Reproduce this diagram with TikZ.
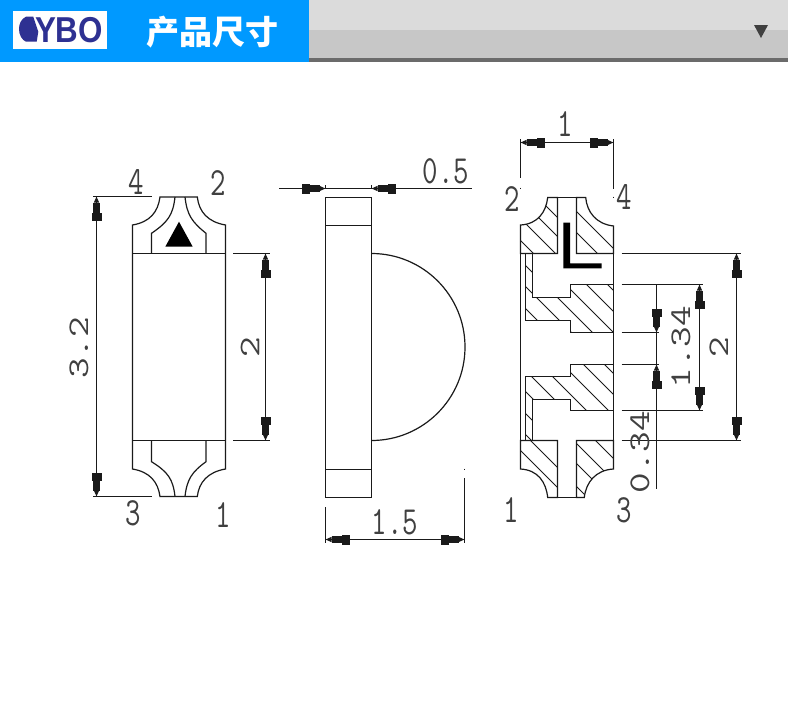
\documentclass[tikz,border=0pt]{standalone}
\usepackage{fontspec}
\newfontfamily\cjk{Noto Sans CJK SC}
\newfontfamily\logofont{Liberation Sans}
\usetikzlibrary{arrows.meta}
\definecolor{headblue}{HTML}{0099FF}
\definecolor{logonavy}{HTML}{2E3192}
\definecolor{cadline}{HTML}{1A1A1A}
\tikzset{
	dimtip/.tip={Rectangle[length=8pt,width=10pt,sep=0pt] Rectangle[length=10pt,width=7pt,sep=0pt] Triangle[length=6pt,width=5pt,sep=0pt]},
	part/.style={line width=1.2pt, color=cadline},
	hatchline/.style={line width=0.9pt, color=cadline},
	dimtext/.style={font=\ttfamily\fontsize{40}{40}\selectfont, color=black!75, inner sep=0pt, xscale=0.75, transform shape},
	dimline/.style={line width=1.1pt, color=cadline},
	dimboth/.style={dimline, dimtip-dimtip},
	dimend/.style={dimline, -dimtip}
}
\def\hatchlines#1#2{\begin{scope}\clip #1;\foreach \c in {#2} \draw[hatchline] (500,{500+\c}) -- (640,{640+\c});\end{scope}}

\begin{document}
\begin{tikzpicture}[x=1pt, y=-1pt]
		\useasboundingbox (0, 0) rectangle (788, 715);
		
		%%%%% HEADER %%%%%
		\fill[headblue] (0, 0) rectangle (309, 62);
		\fill[color=black!14] (309, 0) rectangle (788, 30);
		\fill[color=black!22] (309, 30) rectangle (788, 58);
		\fill[color=black!58] (309, 58) rectangle (788, 62);
		\fill[color=black!75] (754, 25) -- (768, 25) -- (761, 38) -- cycle;
		\fill[white] (13, 11) rectangle (107, 49);
		\fill[logonavy] (33.3, 16.7) -- (26, 16.7) .. controls (21, 19) and (19, 24) .. (19, 29) .. controls (19, 35) and (22, 40) .. (26, 41.7) -- (36.7, 41.7) -- (38.3, 31.7) -- cycle;
		\node[font=\logofont\bfseries\fontsize{36}{36}\selectfont, color=logonavy, inner sep=0pt, xscale=0.87, transform shape] (logo) at (69, 30) {YBO};
		\node[font=\cjk\bfseries\fontsize{33}{33}\selectfont, color=white, inner sep=0pt] (title) at (212.5, 32) {产品尺寸};
		
		%%%%% LEFT VIEW %%%%%
		\draw[part] (132.5, 253.5) -- (132.5, 225) .. controls (150, 222) and (158, 212) .. (160, 197) -- (197.3, 197) .. controls (199, 212) and (208, 222) .. (225.5, 225) -- (225.5, 469) .. controls (208, 472) and (199, 482) .. (197.3, 496.5) -- (160, 496.5) .. controls (158, 482) and (150, 472) .. (132.5, 469) -- cycle;
		\draw[part] (132.5, 253.5) -- (225.5, 253.5);
		\draw[part] (132.5, 440.5) -- (225.5, 440.5);
		\draw[part] (175, 197) .. controls (173, 215) and (168, 222) .. (151.5, 233.3) -- (151.5, 253.5);
		\draw[part] (185, 197) .. controls (187, 215) and (192, 222) .. (206, 233.3) -- (206, 253.5);
		\draw[part] (175, 496.5) .. controls (173, 479) and (168, 472) .. (151.5, 461.7) -- (151.5, 440.5);
		\draw[part] (185, 496.5) .. controls (187, 479) and (192, 472) .. (206, 461.7) -- (206, 440.5);
		\fill[black] (179, 221.7) -- (165.3, 246.7) -- (192.7, 246.7) -- cycle;
		
		\draw[dimline] (93, 196.5) -- (151.7, 196.5);
		\draw[dimline] (93, 496.5) -- (151.7, 496.5);
		\draw[dimboth] (96.5, 196.5) -- (96.5, 496.5);
		\draw[dimline] (233, 253.5) -- (270, 253.5);
		\draw[dimline] (233, 440.5) -- (270, 440.5);
		\draw[dimboth] (265.5, 253.5) -- (265.5, 440.5);
		\node[dimtext, rotate=90] (lenleft) at (79, 348) {3.2};
		\node[dimtext, rotate=90] (domeleft) at (250, 347) {2};
		\node[dimtext] (pinfour) at (136, 182) {4};
		\node[dimtext] (pintwo) at (218, 183) {2};
		\node[dimtext] (pinthree) at (133, 513) {3};
		\node[dimtext] (pinone) at (223, 515) {1};
		
		%%%%% MIDDLE VIEW %%%%%
		\draw[part] (325.5, 197.5) rectangle (371.5, 497.5);
		\draw[part] (325.5, 225.5) -- (371.5, 225.5);
		\draw[part] (325.5, 469.5) -- (371.5, 469.5);
		\draw[part] (371.5, 253.5) arc[start angle=90, end angle=-90, radius=93.5pt];
		
		\draw[dimline] (279, 188.5) -- (472, 188.5);
		\draw[dimend] (302, 188.5) -- (325.5, 188.5);
		\draw[dimend] (395, 188.5) -- (371.5, 188.5);
		\draw[dimline] (325.5, 185) -- (325.5, 188.5);
		\draw[dimline] (371.5, 185) -- (371.5, 188.5);
		\draw[dimline] (325.5, 507) -- (325.5, 543);
		\draw[dimline] (464.5, 478) -- (464.5, 543);
		\draw[dimline] (464.5, 468.5) -- (464.5, 470);
		\draw[dimboth] (325.5, 539.5) -- (464.5, 539.5);
		\node[dimtext] (widthtop) at (446, 171) {0.5};
		\node[dimtext] (widthmid) at (395, 522) {1.5};
		
		%%%%% RIGHT VIEW %%%%%
		\def\capTL{(520.5, 253.5) -- (520.5, 225) .. controls (538, 224) and (546, 212) .. (547.7, 197.5) -- (557.5, 197.5) -- (557.5, 253.5) -- cycle}
		\def\capTR{(576.5, 253.5) -- (576.5, 197.5) -- (585.7, 197.5) .. controls (587, 212) and (596, 224) .. (613.5, 226) -- (613.5, 253.5) -- cycle}
		\def\capBL{(520.5, 440.5) -- (520.5, 469) .. controls (538, 470) and (546, 482) .. (547.7, 497.5) -- (557.5, 497.5) -- (557.5, 440.5) -- cycle}
		\def\capBR{(576.5, 440.5) -- (576.5, 497.5) -- (584.3, 497.5) .. controls (586, 482) and (596, 470) .. (613.5, 469) -- (613.5, 440.5) -- cycle}
		\def\leadT{(525.5, 253.5) -- (532.5, 253.5) -- (532.5, 297.5) -- (570.5, 297.5) -- (570.5, 284.5) -- (613.5, 284.5) -- (613.5, 332.5) -- (570.5, 332.5) -- (570.5, 320.5) -- (525.5, 320.5) -- cycle}
		\def\leadB{(525.5, 440.5) -- (532.5, 440.5) -- (532.5, 399.5) -- (570.5, 399.5) -- (570.5, 410.5) -- (613.5, 410.5) -- (613.5, 364.5) -- (570.5, 364.5) -- (570.5, 376.5) -- (525.5, 376.5) -- cycle}
		
		\hatchlines{\capTL}{-340,-321,-302,-280}
		\hatchlines{\capTR}{-365,-344}
		\hatchlines{\capBL}{-90,-70}
		\hatchlines{\capBR}{-155,-133,-113,-90}
		\hatchlines{\leadT}{-323,-302,-281,-260,-239,-217}
		\hatchlines{\leadB}{-240,-219,-198,-176,-155,-134,-112,-91}
		
		\draw[part] \capTL;
		\draw[part] \capTR;
		\draw[part] \capBL;
		\draw[part] \capBR;
		\draw[part] \leadT;
		\draw[part] \leadB;
		\draw[part] (520.5, 253.5) -- (520.5, 440.5);
		\draw[part] (613.5, 226) -- (613.5, 469);
		\draw[part] (557.5, 197.5) -- (576.5, 197.5);
		\draw[part] (557.5, 497.5) -- (576.5, 497.5);
		\fill[black] (563.3, 222.7) -- (570, 222.7) -- (570, 263.3) -- (601.7, 263.3) -- (601.7, 268.3) -- (563.3, 268.3) -- cycle;
		
		\draw[dimline] (520.5, 139) -- (520.5, 178);
		\draw[dimline] (613.5, 139) -- (613.5, 189.3);
		\draw[dimline] (520.5, 187.5) -- (520.5, 189);
		\draw[dimline] (613.5, 196.5) -- (613.5, 198);
		\draw[dimboth] (520.5, 142.5) -- (613.5, 142.5);
		\draw[dimline] (621.7, 253.5) -- (740.7, 253.5);
		\draw[dimline] (621.7, 440.5) -- (740.7, 440.5);
		\draw[dimboth] (736.5, 253.5) -- (736.5, 440.5);
		\draw[dimline] (621.7, 284.5) -- (703.3, 284.5);
		\draw[dimline] (621.7, 410.5) -- (703.3, 410.5);
		\draw[dimboth] (699.5, 284.5) -- (699.5, 410.5);
		\draw[dimline] (621.7, 332.5) -- (659, 332.5);
		\draw[dimline] (621.7, 364.5) -- (659, 364.5);
		\draw[dimline] (656.5, 284.5) -- (656.5, 489);
		\draw[dimend] (656.5, 309) -- (656.5, 332.5);
		\draw[dimend] (656.5, 387) -- (656.5, 364.5);
		
		\node[dimtext] (widthright) at (565, 124) {1};
		\node[dimtext, rotate=90] (domeright) at (718.7, 347) {2};
		\node[dimtext, rotate=90] (pitch) at (681, 347) {1.34};
		\node[dimtext, rotate=90] (gap) at (640, 452) {0.34};
		\node[dimtext] (padtwo) at (512, 199) {2};
		\node[dimtext] (padfour) at (624.5, 197) {4};
		\node[dimtext] (padone) at (511.5, 510) {1};
		\node[dimtext] (padthree) at (624, 510) {3};
	\end{tikzpicture}
\end{document}
